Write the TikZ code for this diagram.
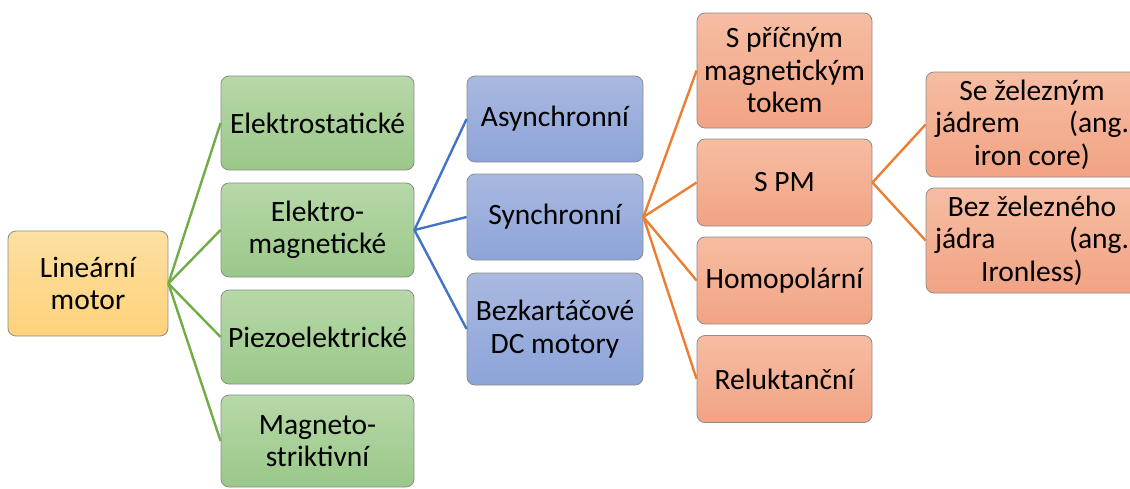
\documentclass[tikz,border=0pt]{standalone}
\usepackage{fontspec}
\setmainfont{Carlito}
\usetikzlibrary{positioning}

\definecolor{rootTop}{HTML}{FDDFA2}
\definecolor{rootBot}{HTML}{FED27A}
\definecolor{greenTop}{HTML}{B7D8A8}
\definecolor{greenBot}{HTML}{9AC889}
\definecolor{blueTop}{HTML}{A9B9E0}
\definecolor{blueBot}{HTML}{8DA4D9}
\definecolor{orangeTop}{HTML}{F6BDA3}
\definecolor{orangeBot}{HTML}{F2A384}
\definecolor{greenLine}{HTML}{70AD47}
\definecolor{blueLine}{HTML}{4472C4}
\definecolor{orangeLine}{HTML}{ED7D31}

\begin{document}
\begin{tikzpicture}[x=1pt, y=-1pt,
  box/.style={draw=black!45, line width=0.8pt, rounded corners=8pt,
    align=center, inner sep=0pt,
    font=\fontsize{29.5}{32.5}\selectfont},
  rootbox/.style={box, top color=rootTop, bottom color=rootBot,
    minimum width=160pt, minimum height=105pt},
  greenbox/.style={box, top color=greenTop, bottom color=greenBot,
    minimum width=193pt, minimum height=94pt},
  bluebox/.style={box, top color=blueTop, bottom color=blueBot,
    minimum width=176pt, minimum height=86pt},
  orangebox/.style={box, top color=orangeTop, bottom color=orangeBot,
    minimum width=175pt, minimum height=87pt},
  corebox/.style={orangebox, minimum width=212pt, minimum height=105pt,
    text width=194pt, align=flush center},
  gline/.style={greenLine, line width=2.4pt},
  bline/.style={blueLine, line width=2.4pt},
  oline/.style={orangeLine, line width=2.4pt}]
\useasboundingbox (0,0) rectangle (1130,488);

% root
\node[rootbox] (root) at (88,283.5) {Lineární\\motor};

% principle
\node[greenbox] (elstat) at (317.5,123) {Elektrostatické};
\node[greenbox] (elmag)  at (317.5,230) {Elektro-\\magnetické};
\node[greenbox] (piezo)  at (317.5,337) {Piezoelektrické};
\node[greenbox, minimum height=92pt] (magstr) at (317.5,441)
  {Magneto-\\striktivní};

% electromagnetic motors
\node[bluebox] (async) at (555,119) {Asynchronní};
\node[bluebox] (sync)  at (555,217) {Synchronní};
\node[bluebox, minimum height=112pt] (bldc) at (555,329)
  {Bezkartáčové\\DC motory};

% synchronous motors
\node[orangebox, minimum height=115pt] (trans) at (784.5,70.5)
  {S příčným\\magnetickým\\tokem};
\node[orangebox] (spm)  at (784.5,182.5) {S PM};
\node[orangebox] (homo) at (784.5,280.5) {Homopolární};
\node[orangebox] (rel)  at (784.5,379) {Reluktanční};

% PM motors
\node[corebox] (iron) at (1032,124.5)
  {Se železným\\jádrem\hfill(ang.\\iron core)};
\node[corebox] (ironless) at (1032,240.5)
  {Bez železného\\jádra\hfill(ang.\\Ironless)};

\foreach \t in {elstat,elmag,piezo,magstr}
  \draw[gline] (root.east) -- (\t.west);
\foreach \t in {async,sync,bldc}
  \draw[bline] (elmag.east) -- (\t.west);
\foreach \t in {trans,spm,homo,rel}
  \draw[oline] (sync.east) -- (\t.west);
\foreach \t in {iron,ironless}
  \draw[oline] (spm.east) -- (\t.west);
\end{tikzpicture}
\end{document}
